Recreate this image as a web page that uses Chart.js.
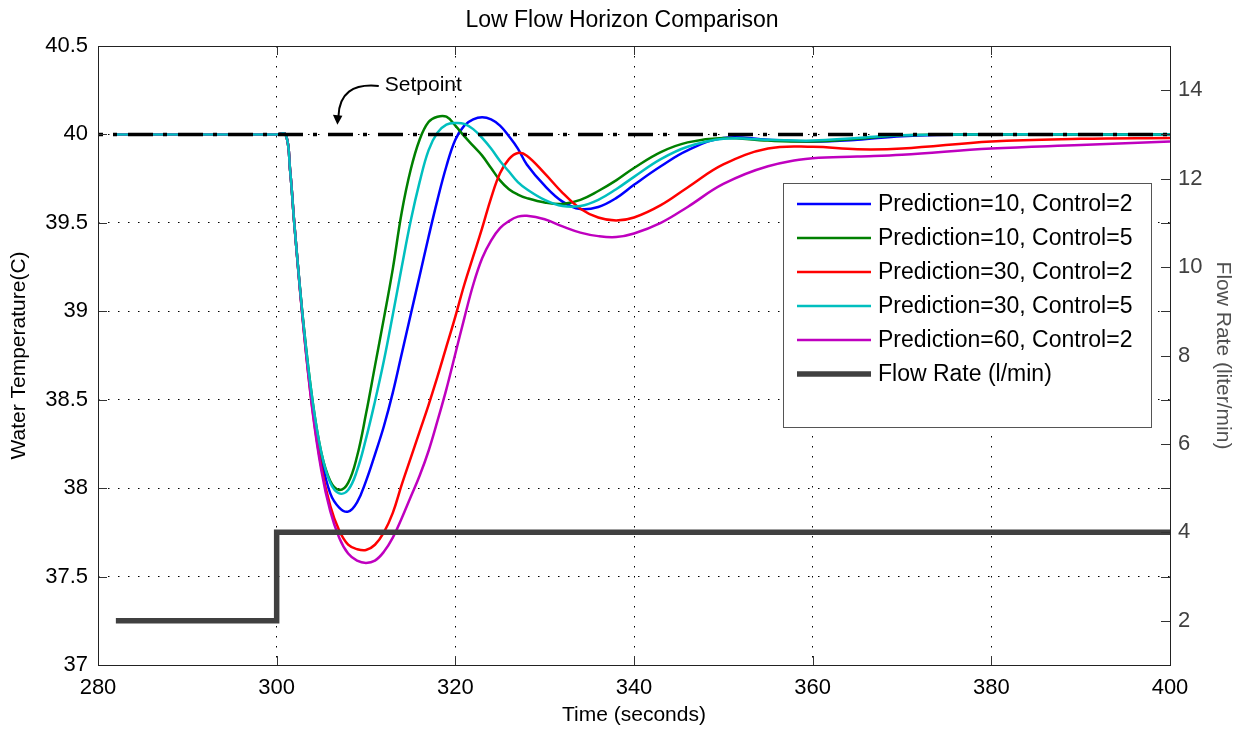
<!DOCTYPE html>
<html>
<head>
<meta charset="utf-8">
<script src="https://cdn.jsdelivr.net/npm/chart.js@4.4.0/dist/chart.umd.min.js"></script>
<style>
  html, body { margin: 0; padding: 0; background: #fff; }
  #wrap { width: 1244px; height: 730px; }
</style>
</head>
<body>
<div id="wrap"><canvas id="myChart" width="1244" height="730"></canvas></div>
<script>
// time axis (seconds), shared by the five temperature curves
const times = [282, 300, 301, 301.5, 302, 303, 304, 305, 306, 307, 308, 309, 310, 311, 312, 313, 314, 315,
  316, 317, 318, 319, 320, 321, 322, 323, 324, 325, 326, 327, 328, 330, 332, 334, 336, 338, 340,
  343, 346, 350, 355, 360, 365, 370, 380, 390, 400];

// water temperature (C)
const p10c2 = [40, 40, 40, 39.8, 39.48, 38.92, 38.47, 38.17, 37.97, 37.89, 37.867, 37.92, 38.04, 38.19, 38.35, 38.54, 38.76, 38.98,
  39.2, 39.42, 39.63, 39.82, 39.97, 40.05, 40.085, 40.097, 40.085, 40.05, 39.99, 39.92, 39.83, 39.71, 39.62, 39.578, 39.59, 39.64, 39.715,
  39.82, 39.91, 39.98, 39.97, 39.96, 39.97, 39.99, 40, 40, 40];
const p10c5 = [40, 40, 40, 39.8, 39.48, 38.93, 38.5, 38.2, 38.04, 37.99, 38.03, 38.18, 38.42, 38.69, 38.96, 39.24, 39.56, 39.8,
  39.97, 40.07, 40.1, 40.1, 40.05, 39.99, 39.935, 39.88, 39.81, 39.74, 39.69, 39.66, 39.64, 39.615, 39.607, 39.63, 39.68, 39.74, 39.81,
  39.9, 39.955, 39.98, 39.965, 39.96, 39.975, 39.995, 40, 40, 40];
const p30c2 = [40, 40, 40, 39.8, 39.48, 38.91, 38.45, 38.12, 37.9, 37.76, 37.68, 37.655, 37.65, 37.68, 37.75, 37.86, 38.02, 38.17,
  38.32, 38.47, 38.63, 38.8, 38.97, 39.15, 39.31, 39.47, 39.64, 39.78, 39.86, 39.895, 39.88, 39.78, 39.67, 39.58, 39.53, 39.513, 39.53,
  39.6, 39.7, 39.83, 39.92, 39.93, 39.916, 39.92, 39.96, 39.975, 39.98];
const p30c5 = [40, 40, 40, 39.8, 39.48, 38.93, 38.5, 38.2, 38.03, 37.97, 37.99, 38.1, 38.28, 38.49, 38.72, 38.98, 39.25, 39.51,
  39.73, 39.91, 40.01, 40.055, 40.065, 40.06, 40.03, 39.98, 39.92, 39.85, 39.79, 39.73, 39.69, 39.63, 39.595, 39.595, 39.63, 39.69, 39.76,
  39.86, 39.93, 39.975, 39.97, 39.965, 39.98, 39.995, 40, 40, 40];
const p60c2 = [40, 40, 40, 39.8, 39.48, 38.91, 38.44, 38.1, 37.87, 37.72, 37.63, 37.59, 37.577, 37.59, 37.64, 37.72, 37.83, 37.95,
  38.07, 38.21, 38.38, 38.56, 38.76, 38.96, 39.15, 39.3, 39.4, 39.47, 39.51, 39.535, 39.54, 39.52, 39.48, 39.445, 39.425, 39.42, 39.44,
  39.5, 39.59, 39.72, 39.82, 39.865, 39.875, 39.885, 39.92, 39.94, 39.96];

// flow rate (l/min), step change at 300 s
const flowTimes = [282, 300, 400];
const flowValues = [2, 4, 4];

// setpoint
const setTimes = [280, 400];
const setValues = [40, 40];

// tick labels
const timeTicks = [280, 300, 320, 340, 360, 380, 400];
const tempTicks = [37, 37.5, 38, 38.5, 39, 39.5, 40, 40.5];
const flowTicks = [2, 4, 6, 8, 10, 12, 14];

const FONT = "'Liberation Sans', Arial, sans-serif";

function pts(xs, ys) {
  return xs.map((x, i) => ({ x: x, y: ys[i] }));
}

function curve(label, values, color, order) {
  return {
    label: label,
    data: pts(times, values),
    borderColor: color,
    backgroundColor: color,
    borderWidth: 2.5,
    pointRadius: 0,
    tension: 0.4,
    fill: false,
    yAxisID: 'y',
    order: order
  };
}

// 축 안쪽 눈금 + 테두리
const framePlugin = {
  id: 'frame',
  afterDatasetsDraw(chart) {
    const { ctx, chartArea: a, scales } = chart;
    ctx.save();
    ctx.strokeStyle = '#333';
    ctx.lineWidth = 1;
    ctx.beginPath();
    tempTicks.forEach(v => {
      const y = Math.round(scales.y.getPixelForValue(v)) + 0.5;
      ctx.moveTo(a.left, y); ctx.lineTo(a.left + 9, y);
    });
    for (let v = 1; v <= 15; v++) {
      const y = Math.round(scales.y2.getPixelForValue(v)) + 0.5;
      ctx.moveTo(a.right, y); ctx.lineTo(a.right - 9, y);
    }
    timeTicks.forEach(v => {
      const x = Math.round(scales.x.getPixelForValue(v)) + 0.5;
      ctx.moveTo(x, a.bottom); ctx.lineTo(x, a.bottom - 9);
      ctx.moveTo(x, a.top); ctx.lineTo(x, a.top + 9);
    });
    ctx.stroke();
    ctx.strokeStyle = '#222';
    ctx.strokeRect(Math.round(a.left) + 0.5, Math.round(a.top) + 0.5,
      Math.round(a.right - a.left), Math.round(a.bottom - a.top));
    ctx.restore();
  }
};

// 범례 박스 + Setpoint 주석
const legendPlugin = {
  id: 'boxLegend',
  afterDraw(chart) {
    const { ctx, chartArea: a, scales } = chart;
    const items = chart.data.datasets.filter(d => d.inLegend);
    const left = a.right - 387, top = a.top + 137, w = 368, h = 244;
    ctx.save();
    ctx.fillStyle = '#fff';
    ctx.fillRect(left, top, w, h);
    ctx.strokeStyle = '#555';
    ctx.lineWidth = 1;
    ctx.strokeRect(left + 0.5, top + 0.5, w, h);
    ctx.font = '23px ' + FONT;
    ctx.textBaseline = 'middle';
    items.forEach((d, i) => {
      const y = top + 21 + i * 34;
      ctx.strokeStyle = d.borderColor;
      ctx.lineWidth = d.borderWidth;
      ctx.beginPath();
      ctx.moveTo(left + 14, y); ctx.lineTo(left + 88, y);
      ctx.stroke();
      ctx.fillStyle = '#000';
      ctx.fillText(d.label, left + 95, y + 1);
    });

    // Setpoint annotation with curved arrow
    const tx = scales.x.getPixelForValue(312.1), ty = scales.y.getPixelForValue(40.28);
    const px = scales.x.getPixelForValue(306.8), py = scales.y.getPixelForValue(40.055);
    ctx.fillStyle = '#000';
    ctx.font = '21px ' + FONT;
    ctx.textBaseline = 'middle';
    ctx.fillText('Setpoint', tx, ty);
    ctx.strokeStyle = '#000';
    ctx.lineWidth = 2;
    ctx.beginPath();
    ctx.moveTo(tx - 6, ty + 1);
    ctx.quadraticCurveTo(px + 2, ty - 3, px + 1, py - 8);
    ctx.stroke();
    ctx.beginPath();
    ctx.moveTo(px, py);
    ctx.lineTo(px - 4.5, py - 10);
    ctx.lineTo(px + 5, py - 9);
    ctx.closePath();
    ctx.fill();
    ctx.restore();
  }
};

function initChart() {
  const ctx = document.getElementById('myChart').getContext('2d');
  const datasets = [
    curve('Prediction=10, Control=2', p10c2, '#0000ff', 7),
    curve('Prediction=10, Control=5', p10c5, '#008000', 6),
    curve('Prediction=30, Control=2', p30c2, '#ff0000', 5),
    curve('Prediction=30, Control=5', p30c5, '#00bfbf', 3),
    curve('Prediction=60, Control=2', p60c2, '#bf00bf', 4),
    {
      label: 'Flow Rate (l/min)',
      data: pts(flowTimes, flowValues),
      borderColor: '#404040',
      borderWidth: 5.5,
      pointRadius: 0,
      stepped: true,
      yAxisID: 'y2',
      order: 2
    },
    {
      label: 'Setpoint',
      data: pts(setTimes, setValues),
      borderColor: '#000',
      borderWidth: 3.5,
      borderDash: [25, 10, 4, 11],
      borderDashOffset: 20,
      pointRadius: 0,
      yAxisID: 'y',
      order: 1
    }
  ];
  datasets.forEach(d => { d.inLegend = d.label !== 'Setpoint'; });

  new Chart(ctx, {
    type: 'line',
    data: { datasets: datasets },
    options: {
      responsive: false,
      animation: false,
      devicePixelRatio: 1,
      events: [],
      layout: { padding: 0 },
      plugins: {
        legend: { display: false },
        tooltip: { enabled: false },
        title: {
          display: true,
          text: 'Low Flow Horizon Comparison',
          color: '#000',
          font: { family: FONT, size: 23, weight: 'normal' },
          padding: { top: 7, bottom: 11.4 }
        }
      },
      scales: {
        x: {
          type: 'linear',
          min: 280, max: 400,
          afterBuildTicks: s => { s.ticks = timeTicks.map(v => ({ value: v })); },
          afterFit: s => { s.height = 65; },
          ticks: { color: '#000', font: { family: FONT, size: 22 }, padding: 10, maxRotation: 0,
            callback: v => String(v) },
          grid: { color: '#000', lineWidth: 1, drawTicks: false },
          border: { display: false, dash: [1.5, 8.5] },
          title: { display: true, text: 'Time (seconds)', color: '#000',
            font: { family: FONT, size: 21 }, padding: { top: 2, bottom: 2 } }
        },
        y: {
          position: 'left',
          min: 37, max: 40.5,
          afterBuildTicks: s => { s.ticks = tempTicks.map(v => ({ value: v })); },
          afterFit: s => { s.width = 98; },
          ticks: { color: '#000', font: { family: FONT, size: 22 }, padding: 10,
            callback: v => String(v) },
          grid: { color: '#000', lineWidth: 1, drawTicks: false },
          border: { display: false, dash: [1.5, 8.5] },
          title: { display: true, text: 'Water Temperature(C)', color: '#000',
            font: { family: FONT, size: 21 }, padding: { top: 7, bottom: 0 } }
        },
        y2: {
          position: 'right',
          min: 1, max: 15,
          afterBuildTicks: s => { s.ticks = flowTicks.map(v => ({ value: v })); },
          afterFit: s => { s.width = 74; },
          ticks: { color: '#404040', font: { family: FONT, size: 22 }, padding: 8,
            callback: v => String(v) },
          grid: { drawOnChartArea: false, drawTicks: false },
          border: { display: false },
          title: { display: true, text: 'Flow Rate (liter/min)', color: '#505050',
            font: { family: FONT, size: 21 }, padding: { top: 9, bottom: 0 } }
        }
      }
    },
    plugins: [framePlugin, legendPlugin]
  });
}

window.onload = function () {
  initChart();
};
</script>
</body>
</html>
